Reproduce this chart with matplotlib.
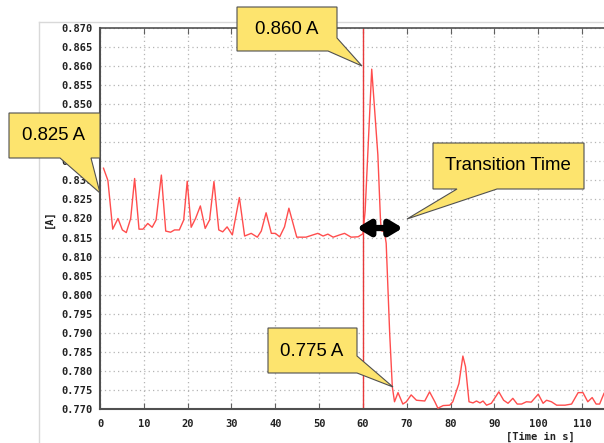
import matplotlib
matplotlib.use('Agg')
import matplotlib.pyplot as plt
from matplotlib.patches import Polygon
import numpy as np

time_s = [0.8, 1.8, 2.9, 4.1, 5.1, 6.0, 7.0, 7.9, 8.9, 9.8,
          10.9, 11.9, 12.8, 14.0, 15.0, 16.1, 17.0, 18.1, 19.1, 19.9,
          20.8, 21.8, 22.9, 24.0, 25.0, 26.0, 27.1, 28.0, 29.0, 30.2,
          31.8, 33.0, 34.5, 35.9, 36.8, 37.9, 39.1, 40.0, 41.0, 42.1,
          43.1, 44.9, 47.0, 48.6, 49.7, 50.9, 52.0, 53.2, 54.7, 55.8,
          57.3, 58.9, 60.0, 60.5, 62.0, 63.4, 64.0, 64.2, 64.9, 65.3,
          66.1, 66.7, 67.2, 68.0, 69.1, 69.9, 71.0, 72.2, 74.1, 75.2,
          76.4, 77.1, 78.3, 79.8, 80.5, 81.9, 82.8, 83.4, 84.2, 85.1,
          85.9, 86.7, 87.4, 88.2, 89.3, 91.0, 92.1, 93.1, 94.2, 95.2,
          96.2, 97.3, 98.4, 100.0, 101.1, 101.9, 103.0, 104.2, 106.1, 107.6,
          109.1, 110.2, 111.3, 112.3, 113.2, 114.0, 115.0]
current_a = [0.8332, 0.8300, 0.8172, 0.8200, 0.8170, 0.8163, 0.8200, 0.8305, 0.8172, 0.8172,
             0.8187, 0.8177, 0.8196, 0.8314, 0.8167, 0.8164, 0.8170, 0.8170, 0.8196, 0.8298,
             0.8177, 0.8200, 0.8233, 0.8174, 0.8196, 0.8297, 0.8170, 0.8165, 0.8178, 0.8157,
             0.8255, 0.8154, 0.8161, 0.8151, 0.8167, 0.8215, 0.8161, 0.8161, 0.8152, 0.8178,
             0.8227, 0.8151, 0.8151, 0.8157, 0.8161, 0.8154, 0.8159, 0.8151, 0.8157, 0.8161,
             0.8151, 0.8152, 0.8160, 0.8220, 0.8592, 0.8367, 0.8196, 0.8168, 0.8165, 0.8135,
             0.7898, 0.7758, 0.7719, 0.7743, 0.7713, 0.7719, 0.7737, 0.7723, 0.7721, 0.7745,
             0.7719, 0.7702, 0.7709, 0.7710, 0.7719, 0.7767, 0.7839, 0.7811, 0.7719, 0.7716,
             0.7721, 0.7716, 0.7721, 0.7710, 0.7715, 0.7745, 0.7723, 0.7715, 0.7728, 0.7713,
             0.7713, 0.7719, 0.7718, 0.7739, 0.7715, 0.7723, 0.7719, 0.7710, 0.7710, 0.7713,
             0.7743, 0.7743, 0.7719, 0.7730, 0.7713, 0.7713, 0.7741]

switch_time = 60
transition = (58.6, 69.1, 0.8175)
x_ticks = list(range(0, 111, 10))
y_ticks = np.arange(0.770, 0.8701, 0.005)

W, H = 604, 443
YELLOW = '#fde46e'


def fig_xy(x, y):
    return x / W, 1 - y / H


def callout(fig, verts, text, tx, ty):
    pts = [fig_xy(x, y) for x, y in verts]
    fig.patches.append(Polygon(pts, closed=True, transform=fig.transFigure,
                               facecolor=YELLOW, edgecolor='#505050', lw=0.8, zorder=5))
    fx, fy = fig_xy(tx, ty)
    fig.text(fx, fy, text, ha='center', va='center', fontsize=13.4,
             family='Liberation Sans', color='black', zorder=6)


fig = plt.figure(figsize=(W / 100, H / 100), dpi=100)
fig.patch.set_facecolor('white')

# light frame of the original plot window
fig.add_artist(plt.Line2D([39 / W, 39 / W], [0, 1 - 22 / H], transform=fig.transFigure,
                          color='#d9d9d9', lw=1))
fig.add_artist(plt.Line2D([39 / W, 1], [1 - 22 / H, 1 - 22 / H], transform=fig.transFigure,
                          color='#d9d9d9', lw=1))

left, right, top, bottom = 100, 604, 28, 409
ax = fig.add_axes([left / W, 1 - bottom / H, (right - left) / W, (bottom - top) / H])

ax.plot(time_s, current_a, color='#ff4d4d', lw=1.0, zorder=3)
ax.axvline(switch_time, color='#e8393a', lw=1.0, zorder=2)

ax.annotate('', xy=(transition[1], transition[2]), xytext=(transition[0], transition[2]),
            arrowprops=dict(arrowstyle='<|-|>,head_length=0.75,head_width=0.45',
                            lw=4.5, color='black', shrinkA=0, shrinkB=0), zorder=4)

ax.set_xlim(0, 115)
ax.set_ylim(0.770, 0.870)
ax.set_xticks(x_ticks)
ax.set_yticks(y_ticks)
ax.set_yticklabels([f'{v:.3f}' for v in y_ticks])

ax.grid(True, color='#b5b5b5', lw=0.9, linestyle=(0, (1, 2.5)))
ax.set_axisbelow(True)

for lab in ax.get_xticklabels() + ax.get_yticklabels():
    lab.set_family('DejaVu Sans Mono')
    lab.set_fontweight('bold')
    lab.set_fontsize(7.5)
    lab.set_color('#222222')

ax.tick_params(axis='x', direction='in', top=True, length=4, width=0.8,
               color='#606060', pad=7)
ax.tick_params(axis='y', direction='in', length=0, pad=5)

for side in ['left', 'bottom', 'top']:
    ax.spines[side].set_color('#505050')
    ax.spines[side].set_linewidth(1.5)
ax.spines['top'].set_linewidth(1.2)
ax.spines['right'].set_visible(False)

ax.set_ylabel('[A]', family='DejaVu Sans Mono', fontweight='bold', fontsize=7.5,
              color='#222222', labelpad=6)
fx, fy = fig_xy(540, 437)
fig.text(fx, fy, '[Time in s]', ha='center', va='center', family='DejaVu Sans Mono',
         fontweight='bold', fontsize=7.5, color='#222222')

# callouts
callout(fig, [(9, 113), (100, 113), (100, 158), (91, 158), (100, 193), (60, 158), (9, 158)],
        '0.825 A', 54, 136)
callout(fig, [(237, 7), (337, 7), (337, 38), (362, 66), (328, 51), (237, 51)],
        '0.860 A', 287, 29)
callout(fig, [(433, 143), (584, 143), (584, 189), (497, 189), (407, 219), (457, 189), (433, 189)],
        'Transition Time', 508, 166)
callout(fig, [(268, 328), (357, 328), (357, 356), (393, 387), (357, 373), (268, 373)],
        '0.775 A', 312, 351)

fig.savefig('out.png', dpi=100)
